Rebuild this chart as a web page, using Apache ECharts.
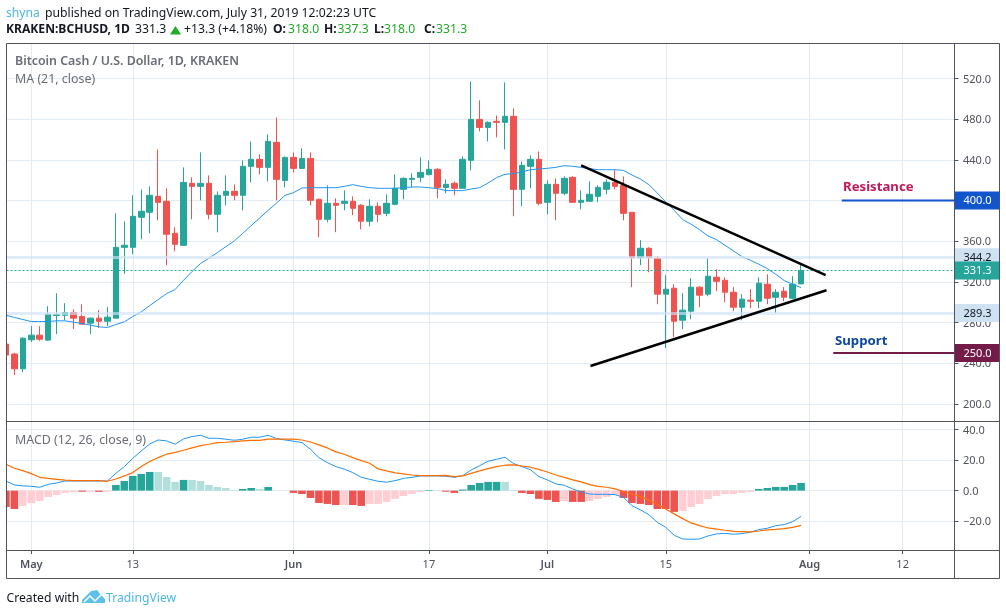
<!DOCTYPE html>
<html><head><meta charset="utf-8">
<style>html,body{margin:0;padding:0;background:#fff}#c{width:1006px;height:615px}</style>
<script src="https://cdn.jsdelivr.net/npm/echarts@6/dist/echarts.min.js"></script>
</head><body><div id="c"></div>
<script>
// Day index 0 = 2019-04-28
const tickDays = [3,15,34,50,64,78,95,106];
const tickLabels = ['May','13','Jun','17','Jul','15','Aug','12'];
const opens = [258.7,249,234.5,263,267.6,262.7,286.9,287.2,289.9,286,
279.4,284.3,281.3,284.3,354,354,383.6,388.5,404.2,399.3,
367.8,356,417,414,417,386.5,405.2,409.1,405.2,433.7,
440.6,432.7,457.3,419.9,442.5,431.7,441.5,401.2,381.6,397.3,
397.3,399.3,395.4,379.7,394.4,387.5,396.3,411.1,420.9,422.9,
425.5,430.8,413,417,412.1,439.6,479.9,472,478,477,
482.9,411.1,433.7,440.6,398.3,416,407.2,422.9,398.3,399.3,
404.2,411.1,418,415,388.5,344.2,353.1,343.3,307.9,313.8,
282.3,291.2,314.8,307.9,324.6,321.6,309.8,295.1,302,301,
317.7,304.9,310.8,303.9,318];
const closes = [248,234.5,264.6,267.6,263.6,288.2,287.9,289.9,284.3,278.4,
284.3,281.3,285.3,354,356,384.5,389.5,405.2,398.3,366.9,
357,417.9,414,417,386.5,405.2,409.1,405.2,433.7,440.6,
432.7,458.2,420.9,442.5,431.7,441.5,400.3,381.6,397.3,395.4,
399.3,392.4,379.7,394.4,386.5,397.3,412.1,421.9,421.9,427.8,
430.8,413,416,412.1,440.6,479.9,472,477,477,482.9,
411.1,434.7,440.6,397.3,416,407.2,421.9,398.3,400.3,406.2,
413,418,414,387.5,344.2,353.1,344.2,307.9,312.8,281.3,
292.2,314.8,306.9,325.6,320.6,309.8,295.1,303,301,318.7,
303.9,309.8,304.9,317.7,331.3];
const highs = [259,250.2,265.6,276.4,276.4,296.1,308.8,299,293.1,298,
285,292.2,295.1,387.5,379.6,405.2,411,414,450.4,412,
373.7,432.7,422.9,447.4,424.8,409.1,424.8,416,439.6,458.2,
445.5,465.1,481.8,443.5,447.4,451.4,447.4,402.2,415,402.3,
410.1,404.2,396.4,401.3,398.3,406.2,425.8,422.9,426.8,442.6,
439.6,431.8,420.9,418.9,443.5,517.2,498.6,478,483.8,516.3,
490.7,438.6,444.5,448.4,419.9,421.9,423.9,423.9,410.1,419,
415,420.9,430.4,423.8,388.5,361,354.1,345.2,326.6,317.7,
308.9,323.6,315.7,343.3,332.4,324.6,314.8,307.9,312.8,324.6,
327.5,312.8,314.8,325.6,337.3];
const lows = [248,228.3,231.2,261,262,262,268.6,282.3,273.5,278.4,
268.6,274.5,276.4,284.3,327.9,347.2,361.9,367.8,380.6,336.4,
350.1,356,381.6,400.3,381.6,368.8,395.3,400.3,390.4,418,
425.8,418.9,400.3,413,427.8,431.7,395.3,363.9,378.6,368.9,
390.5,385.6,371.8,374.7,378.7,384.6,395.4,401.3,413,418,
424.9,402.3,407.2,405.2,412.1,429.8,468.1,458.3,462.2,450.4,
384.6,394.4,412.1,395.4,386.5,380.6,405.2,398.3,391.4,399.3,
398.3,406.2,411,380.6,314.8,336.4,329.5,298,254.8,265.6,
273.5,283.3,295.1,305.9,310.8,300,291.2,282.3,294.1,294.1,
298,289.2,301,302.9,318];
const ma21 = [287.2,285,283,281,281,281,281.7,281.7,280.4,279,
277.4,275.8,275.1,278.1,280.7,285.9,290.5,296.7,302.6,308.5,
312.5,321.6,330.2,338,343.3,348.8,354.7,360.3,367.8,375.4,
382.9,390.4,397.6,405.2,407.8,412.4,412.7,412.7,412.7,412.7,
414,415.7,414,412.7,412.1,412.1,412.1,412.7,413.4,413.4,
412.7,411.8,409.8,409.8,409.8,411.4,412.7,417.3,422.6,425.9,
426.5,428.1,430.4,431.1,431.8,432.7,434.4,433.7,432.7,431.4,
430.4,430.4,430.4,429.7,425.2,421.2,415.7,407.5,398.6,390.4,
381.3,376.7,371.4,365.2,361.6,356,350.5,344.9,341.3,337.4,
333.1,327.5,321.3,317.7,314.4];
const macdLine = [6.3,3.7,3.1,2.8,2.2,4.1,5,6.3,6.3,6.3,
6.3,6.3,6.3,11.3,15.7,21.1,25.9,30.5,33.1,32.5,
30.3,33.8,35.3,36.2,34.2,34.2,33.6,32.9,33.6,34.9,
34.9,36.2,34,33.1,32.3,31.4,27,21.6,18.3,15.7,
14,11.8,8.7,7.4,6.1,5.5,6.5,8,8.7,9.6,
9.6,9.6,9.4,8.7,9.8,13.5,16.3,19.2,20.5,21.8,
17.7,15.7,13.7,9.2,7,4.4,3.5,1.1,-0.9,-2.2,
-2.4,-2.4,-2.6,-4.4,-9.8,-12.6,-15.7,-20.7,-24,-29.2,
-31.6,-31.8,-31.6,-29.6,-28.3,-27.9,-28.5,-28.1,-27.2,-25.5,
-24.6,-22.9,-22.2,-20.3,-16.8];
const signalLine = [17.2,14.6,13.1,11.1,8.7,8,7.4,6.8,6.5,6.5,
6.5,6.5,6.1,7.6,9.6,11.8,15.7,19,21.6,23.8,
25,26.4,27.9,29.4,30.3,31.4,31.6,32,32.5,32.9,
32.9,33.6,33.6,33.6,33.6,33.1,31.8,29.9,27.9,25.3,
23.8,21.6,19.6,17.9,14.2,12.9,11.6,10.9,10.2,9.8,
9.8,9.8,10,9.2,9.6,11.3,12.9,14.4,15.7,16.6,
16.8,16.1,15.3,13.9,12.2,10.2,8.7,7,5.7,3.9,
2.8,2.2,1.1,-0.6,-2.2,-3.9,-6.1,-8.9,-12,-15.2,
-18.3,-21.1,-22.9,-24.4,-25.1,-25.9,-26.6,-26.8,-27,-26.4,
-25.7,-25.3,-24.8,-24,-22.7];
const histogram = [-10.7,-12,-10,-8.1,-6.8,-4.1,-2.8,-1.5,-0.9,-0.7,
-0.7,-0.8,-0.7,3.7,6.3,9.6,10.9,12.2,12.2,8.9,
5.7,7,7,6.3,3.7,2.4,1.7,0.4,1.1,1.7,
1.1,2.4,0.1,-0.1,-1.5,-2.2,-4.8,-8.1,-8.7,-9.4,
-9.4,-9.4,-10,-8.7,-8.7,-7.4,-5.4,-3.5,-2.2,-0.9,
0.4,-0.2,-0.7,-1.5,0.7,3.7,5,5.7,5.7,5.7,
0.4,-1.5,-2.2,-5.4,-6.1,-7.4,-6.8,-7.4,-7.4,-6.8,
-5.4,-4.1,-2.8,-4.8,-8.1,-8.7,-9.4,-12,-12,-13.9,
-13.3,-10.7,-8.7,-5.4,-3.5,-2.2,-2.2,-1.5,-0.9,1.1,
1.7,2.4,2.4,3.7,5];
const histGrowing = [1,1,0,0,0,0,0,0,0,1,
0,1,0,1,1,1,1,1,0,0,
0,1,0,0,0,0,0,0,1,1,
0,1,0,0,1,1,1,1,1,1,
0,1,1,0,0,0,0,0,0,0,
1,0,1,1,1,1,1,1,1,0,
0,1,1,1,1,1,0,1,1,0,
0,0,0,1,1,1,1,1,1,1,
0,0,0,0,0,0,0,0,0,1,
1,1,1,1,1];
const priceTicks = [200,240,280,320,360,400,440,480,520];
const macdTicks = [40,20,0,-20];
const bandLevels = [344.2,289.3];
const lastPrice = 331.3;
const resistance = 400;
const support = 250;
const upperTrend = [[68.0,434.7],[96.9,326.6]];
const lowerTrend = [[69.1,237.2],[97.0,311.8]];

const XMIN = 0.07, XMAX = 112.13;
const GRID = '#e3ecf2', AXIS = '#50535e', TXT = '#50535e';
const FF = '"Noto Sans"';
const candleData = opens.map((o,i)=>[i,o,closes[i],lows[i],highs[i]]);
const pair = a => a.map((v,i)=>[i,v]);
const plainRich = {p:{color:TXT,fontFamily:FF,fontSize:11,padding:[2,0,0,0]}};

function xAxis(idx, labels){
  return {type:'value',gridIndex:idx,min:XMIN,max:XMAX,position:'bottom',
    axisLine:{show:false,onZero:false},
    axisTick:{show:labels,customValues:tickDays,length:4,lineStyle:{color:AXIS}},
    axisLabel:{show:labels,customValues:tickDays,margin:9,hideOverlap:false,
      formatter:v=>{const t=tickLabels[tickDays.indexOf(v)];return /\d/.test(t)?t:'{m|'+t+'}';},
      color:TXT,fontFamily:FF,fontSize:11,rich:{m:{fontFamily:FF,fontSize:11,fontWeight:600,color:TXT}}},
    splitLine:{show:true,lineStyle:{color:GRID,width:1}}};
}
const tags = {
  344.2:{bg:'#cfe2f3',fg:'#131722'},289.3:{bg:'#cfe2f3',fg:'#131722'},
  331.3:{bg:'#26a69a',fg:'#fff'},400:{bg:'#1155cc',fg:'#fff'},250:{bg:'#741b47',fg:'#fff'}
};
const tagValues = [...bandLevels,lastPrice,resistance,support];
const rich = {};
tagValues.forEach((v,i)=>{rich['t'+i]={backgroundColor:tags[v].bg,color:tags[v].fg,fontFamily:FF,fontSize:11,
  width:36,height:17,lineHeight:17,padding:[1,0,0,9]};});

const option = {
  animation:false,backgroundColor:'#fff',
  grid:[{left:6.5,right:51.5,top:43.5,height:377.5},{left:6.5,right:51.5,top:421,height:129}],
  xAxis:[xAxis(0,false),xAxis(1,true)],
  yAxis:[
    {type:'value',gridIndex:0,position:'right',min:183.1,max:554.6,
      axisLine:{show:false},
      axisTick:{show:true,customValues:priceTicks,length:4,lineStyle:{color:AXIS}},
      axisLabel:{customValues:priceTicks,margin:8.5,rich:plainRich,formatter:v=>'{p|'+v.toFixed(1)+'}'},
      splitLine:{show:true,lineStyle:{color:GRID,width:1}}},
    {type:'value',gridIndex:0,position:'right',min:183.1,max:554.6,z:6,
      axisLine:{show:false},
      axisTick:{show:true,customValues:tagValues,length:4,lineStyle:{color:AXIS}},
      axisLabel:{customValues:tagValues,margin:0,hideOverlap:false,
        formatter:v=>'{t'+tagValues.indexOf(v)+'|'+v.toFixed(1)+'}',rich:rich},
      splitLine:{show:false}},
    {type:'value',gridIndex:1,position:'right',min:-38.8,max:45.5,
      axisLine:{show:false},
      axisTick:{show:true,customValues:macdTicks,length:4,lineStyle:{color:AXIS}},
      axisLabel:{customValues:macdTicks,margin:8.5,rich:plainRich,
        formatter:v=>'{p|'+(v<0?'\u2212'+(-v).toFixed(1):v.toFixed(1))+'}'},
      splitLine:{show:true,lineStyle:{color:GRID,width:1}}}
  ],
  series:[
    {name:'BCHUSD',type:'candlestick',xAxisIndex:0,yAxisIndex:0,data:candleData,encode:{x:0,y:[1,2,3,4]},
      barWidth:6,z:3,clip:true,
      itemStyle:{color:'#26a69a',color0:'#ef5350',borderColor:'#26a69a',borderColor0:'#ef5350',borderWidth:1},
      markLine:{silent:true,symbol:'none',animation:false,z:5,label:{show:false},
        lineStyle:{color:'rgba(207,226,243,0.65)',width:3,type:'solid'},
        data:[{yAxis:bandLevels[0]},{yAxis:bandLevels[1]},
          {yAxis:lastPrice,lineStyle:{color:'#26a69a',width:1,type:[2,2]}}]}},
    {name:'MA',type:'line',xAxisIndex:0,yAxisIndex:0,data:pair(ma21),showSymbol:false,symbol:'none',z:4,
      lineStyle:{color:'#2196f3',width:1}},
    {name:'upper',type:'line',xAxisIndex:0,yAxisIndex:0,data:upperTrend,showSymbol:false,symbol:'none',z:6,
      lineStyle:{color:'#000',width:2.5}},
    {name:'lower',type:'line',xAxisIndex:0,yAxisIndex:0,data:lowerTrend,showSymbol:false,symbol:'none',z:6,
      lineStyle:{color:'#000',width:2.5}},
    {name:'resistance',type:'line',xAxisIndex:0,yAxisIndex:0,data:[[98.8,resistance],[XMAX,resistance]],showSymbol:false,symbol:'none',z:6,
      lineStyle:{color:'#1155cc',width:2}},
    {name:'support',type:'line',xAxisIndex:0,yAxisIndex:0,data:[[97.8,support],[XMAX,support]],showSymbol:false,symbol:'none',z:6,
      lineStyle:{color:'#741b47',width:2}},
    {name:'hist',type:'bar',xAxisIndex:1,yAxisIndex:2,data:pair(histogram),barWidth:7.6,z:3,
      itemStyle:{color:p=>{const v=histogram[p.dataIndex],g=histGrowing[p.dataIndex];
        return v>=0?(g?'#26a69a':'#b2dfdb'):(g?'#ef5350':'#ffcdd2');}}},
    {name:'macd',type:'line',xAxisIndex:1,yAxisIndex:2,data:pair(macdLine),showSymbol:false,symbol:'none',z:4,
      lineStyle:{color:'#2196f3',width:1}},
    {name:'signal',type:'line',xAxisIndex:1,yAxisIndex:2,data:pair(signalLine),showSymbol:false,symbol:'none',z:5,
      lineStyle:{color:'#ff6d00',width:1.2}}
  ],
  graphic:{elements:[]}
};
const G = option.graphic.elements;
function txt(x,y,text,fill,font){G.push({type:'text',z:50,silent:true,style:{x,y,text,fill,font:font||('12.2px '+FF),verticalAlign:'middle',align:'left'}});}
function seg(x1,y1,x2,y2){G.push({type:'line',z:40,silent:true,shape:{x1,y1,x2,y2},style:{stroke:AXIS,lineWidth:1}});}
// page margin left of the pane: marks stop at the frame
G.push({type:'rect',z:30,silent:true,shape:{x:0,y:43,width:6.5,height:508},style:{fill:'#fff'}});
// frame
seg(6.5,43.5,999.5,43.5);seg(6.5,578.5,999.5,578.5);seg(6.5,43.5,6.5,578.5);seg(999.5,43.5,999.5,578.5);
seg(954.5,43.5,954.5,578.5);seg(6.5,421.5,999.5,421.5);seg(6.5,550.5,999.5,550.5);
// header
const GREEN='#22ab24', DARK='#131722';
txt(6,13.5,'shyna','#4db8e6');
txt(45,13.5,'published on TradingView.com, July 31, 2019 12:02:23 UTC',DARK);
txt(6,30,'KRAKEN:BCHUSD, 1D',DARK,'bold 12.1px '+FF);
txt(135,30,'331.3',DARK);
G.push({type:'polygon',z:50,silent:true,shape:{points:[[170,34.5],[181,34.5],[175.5,26]]},style:{fill:GREEN}});
txt(184,30,'+13.3 (+4.18%)',DARK);
txt(273,30,'O:',DARK,'bold 12.1px '+FF);txt(288,30,'318.0',GREEN);
txt(324,30,'H:',DARK,'bold 12.1px '+FF);txt(337.5,30,'337.3',GREEN);
txt(374,30,'L:',DARK,'bold 12.1px '+FF);txt(384,30,'318.0',GREEN);
txt(424,30,'C:',DARK,'bold 12.1px '+FF);txt(436,30,'331.3',GREEN);
// pane titles
txt(15,61,'Bitcoin Cash / U.S. Dollar, 1D, KRAKEN','#6a6d78','600 12.4px '+FF);
txt(15,79,'MA (21, close)','#6a6d78','12.4px '+FF);
txt(15,440,'MACD (12, 26, close, 9)','#6a6d78','12.4px '+FF);
// annotations
txt(843,187.5,'Resistance','#c2185b','bold 13.2px '+FF);
txt(835,341.5,'Support','#0d47a1','bold 13.2px '+FF);
// footer
txt(6.5,598.5,'Created with',DARK,'12.2px '+FF);
G.push({type:'polygon',z:50,silent:true,shape:{points:[[82,603],[82,600],[91,591],[97,590],[101,595],[105,599],[105,603]]},style:{fill:'#5cc0ea'}});
G.push({type:'polyline',z:51,silent:true,shape:{points:[[84,602],[90,596],[95,601],[102,594]]},style:{stroke:'#fff',lineWidth:1.5,fill:null}});
txt(106,598.5,'TradingView','#4db8e6','12.2px '+FF);

const chart = echarts.init(document.getElementById('c'),null,{renderer:'canvas'});
chart.setOption(option);
</script></body></html>
